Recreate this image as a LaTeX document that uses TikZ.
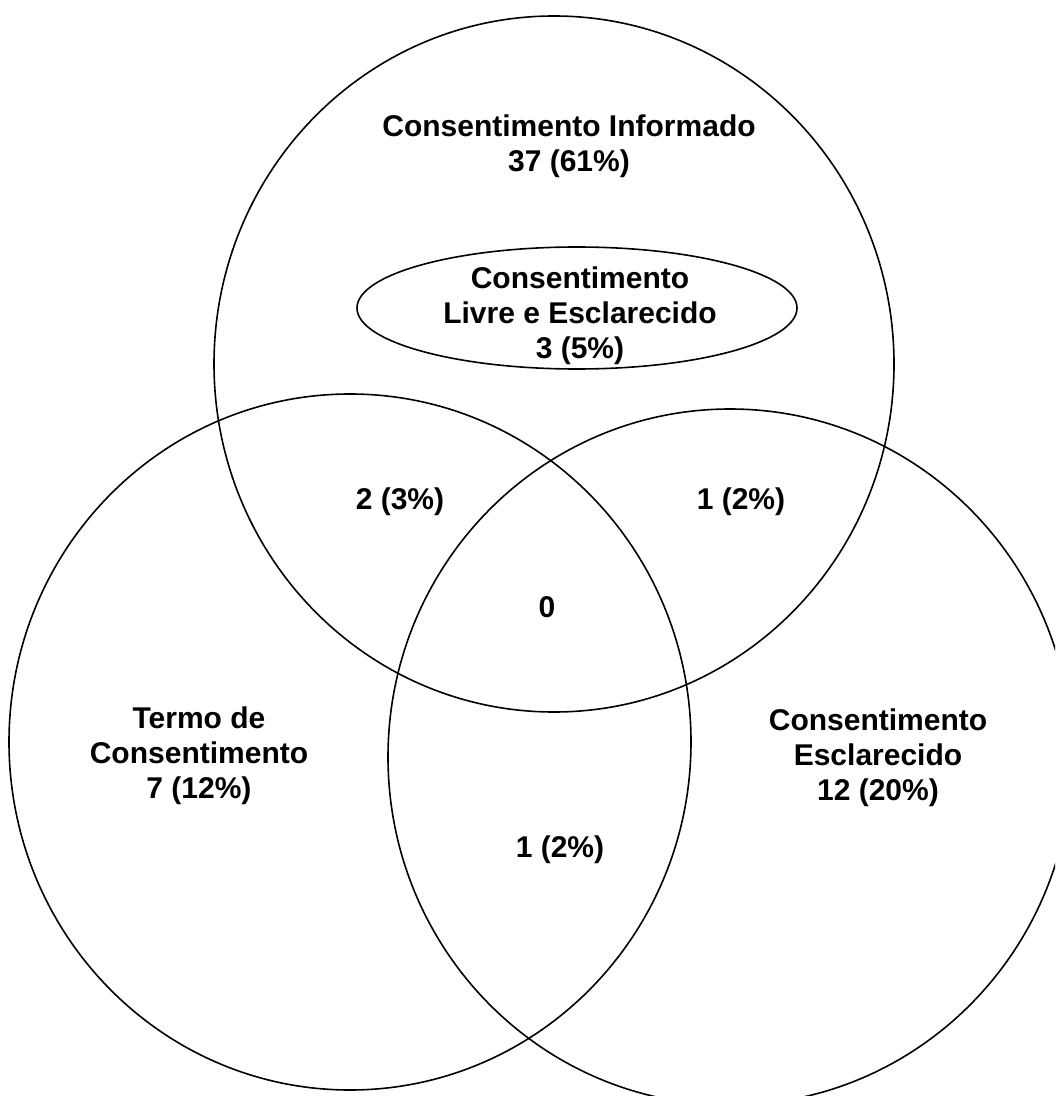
\documentclass[tikz,border=0pt]{standalone}
\usepackage{fontspec}
\setmainfont{Liberation Sans}
\tikzset{
  venn/.style={draw=black, line width=0.8pt},
  lbl/.style={font=\bfseries\fontsize{15}{17.6}\selectfont, align=center, inner sep=0pt}
}
\begin{document}
\begin{tikzpicture}[x=0.5pt, y=-0.5pt]
\useasboundingbox (0,0) rectangle (1055,1096);
\clip (0,0) rectangle (1055,1096);
% circles
\draw[venn] (554,364) ellipse [x radius=340, y radius=348];
\draw[venn] (350,742) ellipse [x radius=341, y radius=348];
\draw[venn] (730,757) ellipse [x radius=342, y radius=348];
\draw[venn] (577,308) ellipse [x radius=220, y radius=61];
% labels
\node[lbl] (ci) at (569,146) {Consentimento Informado\\37 (61\%)};
\node[lbl] (cle) at (580,316) {Consentimento\\Livre e Esclarecido\\3 (5\%)};
\node[lbl] (a) at (400,502) {2 (3\%)};
\node[lbl] (b) at (741,502) {1 (2\%)};
\node[lbl] (z) at (547,607) {0};
\node[lbl] (tc) at (199,756) {Termo de\\Consentimento\\7 (12\%)};
\node[lbl] (ce) at (878,758) {Consentimento\\Esclarecido\\12 (20\%)};
\node[lbl] (c) at (560,850) {1 (2\%)};
\end{tikzpicture}
\end{document}
